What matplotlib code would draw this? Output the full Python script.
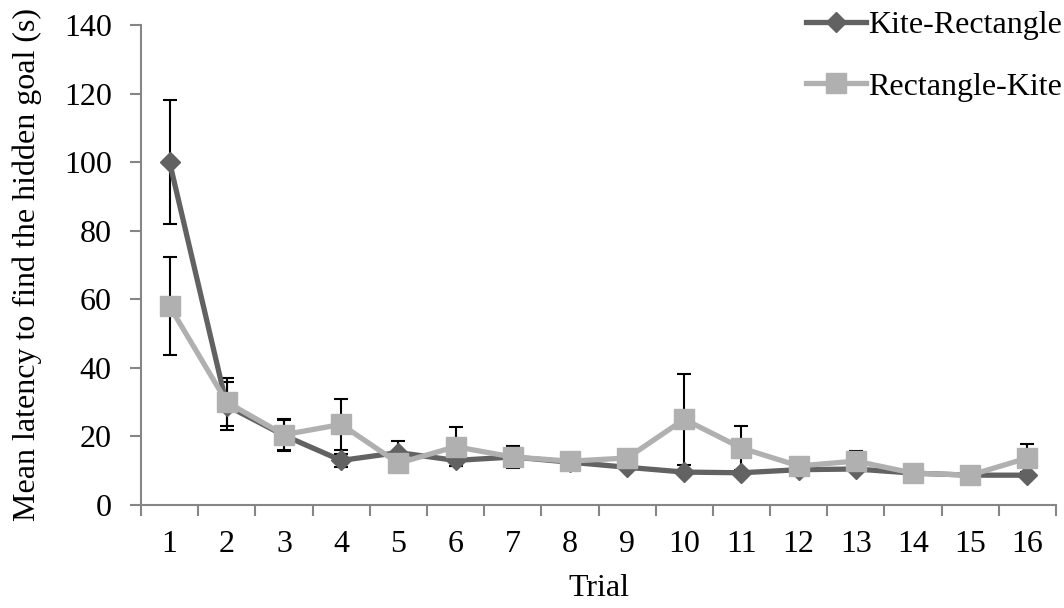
import matplotlib
matplotlib.use("Agg")
import matplotlib.pyplot as plt
from matplotlib.ticker import FixedLocator, NullFormatter

plt.rcParams['font.family'] = ['Liberation Serif', 'DejaVu Serif']

trials = list(range(1, 17))
kite_rect = [100, 29, 20.3, 13, 15.3, 13, 14, 12.5, 11, 9.6, 9.4, 10.3, 10.5, 9.3, 8.7, 8.7]
kite_rect_err = [18, 7, 4.5, 2, 3.5, 1.5, 2.5, 0.5, 0.5, 0.5, 0.5, 0.5, 0.5, 0.5, 0.5, 0.5]
rect_kite = [58, 30, 20.5, 23.5, 12.2, 17, 14, 12.8, 13.7, 25, 16.6, 11.4, 12.8, 9.3, 8.7, 13.7]
rect_kite_err = [14.3, 7, 4.5, 7.5, 1.0, 5.7, 3.2, 0.5, 0.5, 13.2, 6.4, 0.5, 2.9, 0.5, 0.5, 4.1]
series_names = ["Kite-Rectangle", "Rectangle-Kite"]
y_ticks = [0, 20, 40, 60, 80, 100, 120, 140]

dark = "#626262"
light = "#b0b0b0"
spine_col = "#868686"
FS = 23

fig = plt.figure(figsize=(10.64, 6.08), dpi=100)
ax = fig.add_axes([0.1325, 0.1694, 0.86, 0.7895])

ax.errorbar(trials, kite_rect, yerr=kite_rect_err, fmt='none', ecolor='black',
            elinewidth=1.5, capsize=5, capthick=1.5, zorder=2)
ax.errorbar(trials, rect_kite, yerr=rect_kite_err, fmt='none', ecolor='black',
            elinewidth=1.5, capsize=5, capthick=1.5, zorder=2)
l1, = ax.plot(trials, kite_rect, color=dark, lw=3.8, marker='D', markersize=10,
              markeredgecolor=dark, markerfacecolor=dark, zorder=3, label=series_names[0])
l2, = ax.plot(trials, rect_kite, color=light, lw=3.8, marker='s', markersize=14,
              markeredgecolor=light, markerfacecolor=light, zorder=4, label=series_names[1])

ax.set_xlim(0.5, 16.5)
ax.set_ylim(0, 140)
ax.set_yticks(y_ticks)
ax.set_xticks(trials)
ax.tick_params(axis='x', which='major', length=0, labelsize=FS, pad=18)
ax.xaxis.set_minor_locator(FixedLocator([t - 0.5 for t in trials] + [16.5]))
ax.xaxis.set_minor_formatter(NullFormatter())
ax.tick_params(axis='x', which='minor', length=8, width=1.5, color=spine_col)
ax.tick_params(axis='y', length=8, width=1.5, color=spine_col, labelsize=FS, pad=13)

for s in ['top', 'right']:
    ax.spines[s].set_visible(False)
for s in ['left', 'bottom']:
    ax.spines[s].set_color(spine_col)
    ax.spines[s].set_linewidth(1.5)

ax.set_xlabel("Trial", fontsize=FS, labelpad=11)
ax.set_ylabel("Mean latency to find the hidden goal (s)", fontsize=FS, labelpad=16)

leg = fig.legend(handles=[l1, l2], loc='upper right', bbox_to_anchor=(0.998, 0.982),
                 frameon=False, fontsize=FS, handlelength=1.9, handletextpad=0.05,
                 labelspacing=1.0, borderaxespad=0.0, borderpad=0.0)

fig.savefig("out.png", dpi=100)
